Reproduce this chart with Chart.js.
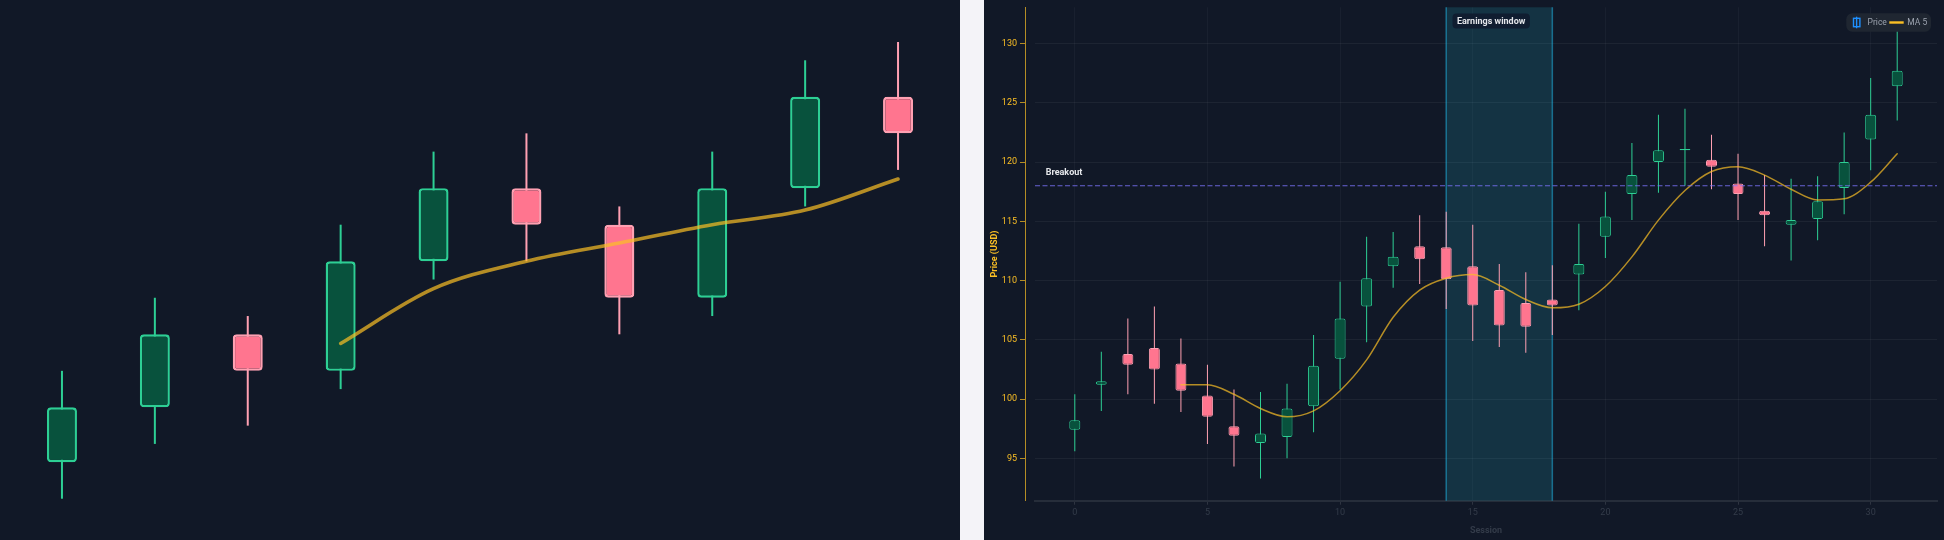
<!DOCTYPE html>
<html>
<head>
<meta charset="utf-8">
<script src="https://cdn.jsdelivr.net/npm/chart.js@4"></script>
<style>
html,body{margin:0;padding:0;width:1944px;height:540px;background:#f4f3f8;overflow:hidden}
canvas{position:absolute;top:0;background:#111827;display:block}
#zoomChart{left:0}
#fullChart{left:984px}
</style>
</head>
<body>
<canvas id="zoomChart" width="960" height="540"></canvas>
<canvas id="fullChart" width="960" height="540"></canvas>
<script>
// ---- left panel data
const zoomSessions = [0,1,2,3,4,5,6,7,8,9];
const zoomOpen  = [100,103,107,105,111,115,113,109,115,120];
const zoomClose = [103,107,105,111,115,113,109,115,120,118];
const zoomHigh  = [105,109,108,113,117,118,114,117,122,123];
const zoomLow   = [98,101,102,104,110,111,107,108,114,116];
const zoomMaSessions = [3,4,5,6,7,8,9];
const zoomMa = [106.5,109.5,111,112,113,113.8,115.5];

// ---- right panel data
const sessions = [0,1,2,3,4,5,6,7,8,9,10,11,12,13,14,15,16,17,18,19,20,21,22,23,24,25,26,27,28,29,30,31];
const open  = [97.4,101.2,103.8,104.3,103,100.3,97.7,96.3,96.8,99.4,103.4,107.8,111.2,112.9,112.8,111.2,109.2,108.1,108.4,110.5,113.7,117.3,120,121,120.2,118.2,115.9,114.7,115.2,117.8,121.9,126.4];
const close = [98.2,101.5,102.9,102.5,100.7,98.5,96.9,97.1,99.2,102.8,106.8,110.2,112,111.8,110.1,107.9,106.2,106.1,107.9,111.4,115.4,118.9,121,121.1,119.6,117.3,115.5,115.1,116.7,120,124,127.7];
const high  = [100.4,104,106.8,107.8,105.1,102.9,100.8,100.6,101.3,105.4,109.9,113.7,114.1,115.5,115.8,114.7,111.4,110.7,111.3,114.8,117.5,121.6,124,124.5,122.3,120.7,118.9,118.6,118.8,122.5,127.1,131.1];
const low   = [95.6,99,100.4,99.6,98.9,96.2,94.3,93.3,95,97.2,100.8,104.8,109.4,109.7,107.6,104.9,104.4,103.9,105.4,107.5,111.9,115.1,117.4,118,117.7,115.1,112.9,111.7,113.4,115.6,119.3,123.5];
const maSessions = [4,5,6,7,8,9,10,11,12,13,14,15,16,17,18,19,20,21,22,23,24,25,26,27,28,29,30,31];
const ma5 = [101.2,101.2,100.4,99.2,98.5,99,100.7,103.3,106.9,109.2,110.2,110.5,109.6,108.4,107.7,108,109.5,112,115.1,117.6,119.2,119.6,118.9,117.7,116.8,116.9,118.3,120.7];
const priceTicks = [95,100,105,110,115,120,125,130];
const sessionTicks = [0,5,10,15,20,25,30];
const breakoutValue = 118;
const breakoutLabel = 'Breakout';
const windowStart = 14;
const windowEnd = 18;
const windowLabel = 'Earnings window';
const priceLabel = 'Price';
const maLabel = 'MA 5';
const priceAxisTitle = 'Price (USD)';
const sessionAxisTitle = 'Session';

const FONT = 'Roboto';
const UP_BODY='#08523d', UP_EDGE='#2dcf94', DOWN_BODY='#ff758f', DOWN_EDGE='#ffa0b2';
const GOLD='#fbbf24';

function candleSets(xs,o,c,h,l,bodyW,wickW,radius,edge){
  const isUp=i=>c[i]>=o[i];
  return [
    {type:'bar',label:priceLabel+' wick',order:3,grouped:false,barThickness:wickW,borderWidth:0,borderSkipped:false,inflateAmount:0,
     backgroundColor:xs.map((_,i)=>isUp(i)?UP_EDGE:DOWN_EDGE),
     data:xs.map((x,i)=>({x,y:[l[i],h[i]]}))},
    {type:'bar',label:priceLabel,order:2,grouped:false,barThickness:bodyW,borderWidth:edge,borderRadius:radius,borderSkipped:false,inflateAmount:0,
     backgroundColor:xs.map((_,i)=>isUp(i)?UP_BODY:DOWN_BODY),
     borderColor:xs.map((_,i)=>isUp(i)?UP_EDGE:DOWN_EDGE),
     data:xs.map((x,i)=>({x,y:[o[i],c[i]]}))}
  ];
}
function lineSet(xs,ys,w){
  return {type:'line',label:maLabel,order:1,data:xs.map((x,i)=>({x,y:ys[i]})),
    borderColor:'rgba(251,191,36,0.7)',borderWidth:w,pointRadius:0,borderCapStyle:'round',
    cubicInterpolationMode:'monotone',fill:false};
}

Chart.defaults.font.family=FONT;
Chart.defaults.animation=false;

new Chart(document.getElementById('zoomChart'),{
  type:'bar',
  data:{datasets:[...candleSets(zoomSessions,zoomOpen,zoomClose,zoomHigh,zoomLow,30,2,4,2.4),lineSet(zoomMaSessions,zoomMa,3.6)]},
  options:{responsive:false,devicePixelRatio:1,animation:false,
    plugins:{legend:{display:false},tooltip:{enabled:false}},
    layout:{padding:0},
    scales:{
      x:{type:'linear',display:false,offset:false,min:-0.667,max:9.667},
      y:{type:'linear',display:false,min:95.74,max:125.3}
    }}
});

const annotations={
  id:'annotations',
  beforeDatasetsDraw(chart){
    const {ctx,chartArea:a,scales:{x}}=chart;
    const l=x.getPixelForValue(windowStart), r=x.getPixelForValue(windowEnd);
    ctx.save();
    ctx.fillStyle='rgba(34,211,238,0.14)';
    ctx.fillRect(l,a.top,r-l,a.bottom-a.top);
    ctx.strokeStyle='rgba(34,190,238,0.5)';
    ctx.lineWidth=1.5;
    ctx.beginPath();
    ctx.moveTo(l,a.top);ctx.lineTo(l,a.bottom);
    ctx.moveTo(r,a.top);ctx.lineTo(r,a.bottom);
    ctx.stroke();
    ctx.restore();
  },
  afterDatasetsDraw(chart){
    const {ctx,chartArea:a,scales:{x,y}}=chart;
    const py=y.getPixelForValue(breakoutValue);
    ctx.save();
    ctx.strokeStyle='rgba(124,115,255,0.8)';
    ctx.lineWidth=1.2;
    ctx.setLineDash([5,2.5]);
    ctx.beginPath();ctx.moveTo(a.left,py);ctx.lineTo(a.right,py);ctx.stroke();
    ctx.setLineDash([]);
    ctx.font='bold 9px '+FONT;
    ctx.textBaseline='middle';
    ctx.fillStyle='#e5e7eb';
    ctx.textAlign='left';
    ctx.fillText(breakoutLabel,a.left+10.7,py-13);
    const l=x.getPixelForValue(windowStart);
    const cx=l+6.3, cy=a.top+6.3;
    ctx.fillStyle='#101d30';
    ctx.beginPath();ctx.roundRect(cx,cy,77.4,15,4);ctx.fill();
    ctx.fillStyle='#e5e7eb';
    ctx.fillText(windowLabel,cx+4.4,cy+7.7);
    // legend
    const lw=84.7, lh=18.4, lx=a.right-6-lw, ly=a.top+6;
    ctx.fillStyle='#1f2631';
    ctx.beginPath();ctx.roundRect(lx,ly,lw,lh,6);ctx.fill();
    const mid=ly+lh/2;
    ctx.strokeStyle='#1e90ff';ctx.lineWidth=1.4;
    ctx.beginPath();ctx.moveTo(lx+10.3,mid-5.8);ctx.lineTo(lx+10.3,mid+5.8);ctx.stroke();
    ctx.strokeRect(lx+7.2,mid-4.2,6.4,8.4);
    ctx.font='8.5px '+FONT;
    ctx.fillStyle='#9ca3af';
    ctx.fillText(priceLabel,lx+21.3,mid);
    ctx.fillStyle=GOLD;
    ctx.fillRect(lx+43,mid-1.2,14.4,2.4);
    ctx.fillStyle='#9ca3af';
    ctx.fillText(maLabel,lx+61,mid);
    ctx.restore();
  }
};

const fixedTicks=arr=>axis=>{axis.ticks=arr.map(value=>({value}));};
const Y_MIN=91.42, Y_MAX=133.06;
new Chart(document.getElementById('fullChart'),{
  type:'bar',
  data:{datasets:[...candleSets(sessions,open,close,high,low,11,1,2,1),lineSet(maSessions,ma5,1.5)]},
  plugins:[annotations],
  options:{responsive:false,devicePixelRatio:1,animation:false,
    plugins:{legend:{display:false},tooltip:{enabled:false}},
    layout:{padding:{top:7.3,right:7,left:0,bottom:4}},
    scales:{
      x:{type:'linear',offset:false,min:-1.5,max:32.5,afterBuildTicks:fixedTicks(sessionTicks),
        afterFit(s){s.height=35.3;},
        grid:{offset:false,color:'rgba(255,255,255,0.035)',tickColor:'rgba(255,255,255,0.12)',tickLength:4},
        border:{color:'rgba(255,255,255,0.09)',width:2},
        ticks:{color:'#333b49',font:{size:9},padding:3,maxRotation:0,autoSkip:false},
        title:{display:true,text:sessionAxisTitle,color:'#333b49',font:{size:9,weight:'bold'},padding:{top:2,bottom:0}}},
      y:{type:'linear',position:'left',weight:2,min:Y_MIN,max:Y_MAX,afterBuildTicks:fixedTicks(priceTicks),
        afterFit(s){s.width=41;},
        grid:{drawOnChartArea:false,tickColor:'rgba(251,191,36,0.7)',tickLength:5},
        border:{color:'rgba(251,191,36,0.7)',width:1},
        ticks:{color:GOLD,font:{size:9,lineHeight:0.88},padding:3,autoSkip:false},
        title:{display:true,text:priceAxisTitle,color:GOLD,font:{size:9,weight:'bold'},padding:{top:5,bottom:0}}},
      yGrid:{type:'linear',position:'left',weight:1,min:Y_MIN,max:Y_MAX,afterBuildTicks:fixedTicks(priceTicks),
        afterFit(s){s.width=10;},
        grid:{color:'rgba(255,255,255,0.05)',drawTicks:false},
        border:{display:false},
        ticks:{display:false}}
    }}
});
</script>
</body>
</html>
